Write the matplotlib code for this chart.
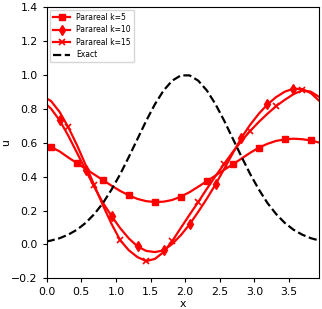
import numpy as np
import matplotlib
matplotlib.use("Agg")
import matplotlib.pyplot as plt

# grid of the solution
x = [0.0, 0.0625, 0.1875, 0.3125, 0.4375, 0.5625, 0.6875, 0.8125, 0.9375,
     1.0625, 1.1875, 1.3125, 1.4375, 1.5625, 1.6875, 1.8125, 1.9375,
     2.0625, 2.1875, 2.3125, 2.4375, 2.5625, 2.6875, 2.8125, 2.9375,
     3.0625, 3.1875, 3.3125, 3.4375, 3.5625, 3.6875, 3.8125, 3.9375]

u_k5 = [0.580, 0.574, 0.548, 0.512, 0.479, 0.445, 0.412, 0.379, 0.346,
        0.315, 0.289, 0.268, 0.255, 0.250, 0.252, 0.262, 0.282,
        0.308, 0.340, 0.373, 0.406, 0.440, 0.472, 0.506, 0.540,
        0.570, 0.593, 0.610, 0.619, 0.623, 0.620, 0.613, 0.600]

u_k10 = [0.823, 0.800, 0.731, 0.640, 0.540, 0.438, 0.338, 0.245, 0.167,
         0.095, 0.035, -0.012, -0.038, -0.045, -0.035, 0.003, 0.055,
         0.118, 0.192, 0.270, 0.354, 0.445, 0.538, 0.629, 0.705,
         0.770, 0.825, 0.868, 0.900, 0.918, 0.915, 0.892, 0.845]

u_k15 = [0.860, 0.845, 0.780, 0.690, 0.585, 0.468, 0.348, 0.230, 0.120,
         0.024, -0.035, -0.075, -0.098, -0.085, -0.045, 0.020, 0.098,
         0.175, 0.250, 0.328, 0.403, 0.475, 0.545, 0.610, 0.668,
         0.722, 0.770, 0.815, 0.852, 0.885, 0.908, 0.900, 0.868]

u_exact = [0.018, 0.023, 0.037, 0.058, 0.087, 0.127, 0.179, 0.244, 0.324,
           0.415, 0.517, 0.623, 0.729, 0.826, 0.907, 0.965, 0.996,
           0.996, 0.965, 0.907, 0.826, 0.729, 0.623, 0.517, 0.415,
           0.324, 0.244, 0.179, 0.127, 0.087, 0.058, 0.037, 0.023]

fig = plt.figure(figsize=(3.22, 3.09), dpi=100)
ax = fig.add_axes([0.145, 0.099, 0.847, 0.879])

ax.plot(x, u_k5, 'r-', marker='s', markersize=5, linewidth=1.6,
        markevery=slice(1, None, 3), label='Parareal k=5')
ax.plot(x, u_k10, 'r-', marker='d', markersize=5, linewidth=1.6,
        markevery=slice(2, 32, 3), label='Parareal k=10')
ax.plot(x, u_k15, 'r-', marker='x', markersize=5, linewidth=1.6,
        markeredgewidth=1.2, markevery=slice(3, None, 3), label='Parareal k=15')
ax.plot(x, u_exact, 'k--', linewidth=1.6, label='Exact')

ax.set_xlim(0, 3.9375)
ax.set_ylim(-0.2, 1.4)
ax.set_xticks(np.arange(0, 4.0, 0.5))
ax.set_yticks(np.arange(-0.2, 1.41, 0.2))
ax.tick_params(labelsize=7.8, length=3)
ax.set_xlabel('x', fontsize=7.8, labelpad=1)
ax.set_ylabel('u', fontsize=7.8)
ax.yaxis.set_label_coords(-0.13, 0.5)

ax.legend(loc='upper left', fontsize=5.5, handlelength=2.3, borderpad=0.4,
          labelspacing=0.45, handletextpad=0.8, borderaxespad=0.4)

fig.savefig('out.png', dpi=100)
